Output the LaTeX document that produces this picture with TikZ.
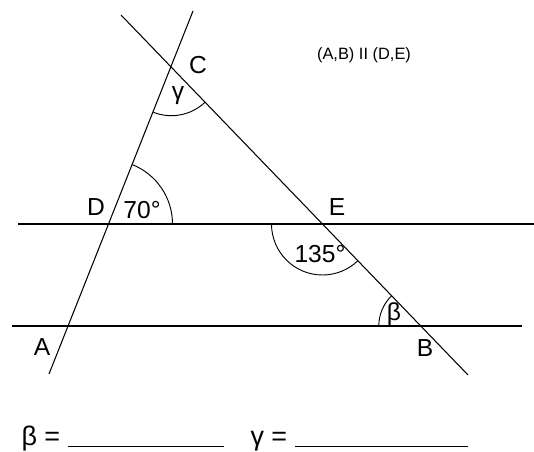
\documentclass[tikz,border=0pt]{standalone}
\usepackage{fontspec}
\setmainfont{Liberation Sans}
\begin{document}
\begin{tikzpicture}[x=0.03cm,y=0.03cm, line width=0.9pt,
    lbl/.style={inner sep=0pt, font=\fontsize{21}{24}\selectfont},
    arcline/.style={line width=0.8pt}]
    \useasboundingbox (0,0) rectangle (534,452);
    % points of the figure
    \coordinate (C) at (171.3,385.3);
    \coordinate (D) at (108.5,228);
    \coordinate (A) at (68,126);
    \coordinate (E) at (322.5,228);
    \coordinate (B) at (420.8,126);
    % ends of the lines
    \coordinate (l1top) at (193,441);
    \coordinate (l1bot) at (49,78);
    \coordinate (l2top) at (121,437);
    \coordinate (l2bot) at (468,77);
    \coordinate (deleft) at (18,228);
    \coordinate (deright) at (534,228);
    \coordinate (ableft) at (12,126);
    \coordinate (abright) at (522,126);
    \draw (l1bot) -- (l1top);
    \draw (l2top) -- (l2bot);
    \draw (deleft) -- (deright);
    \draw (ableft) -- (abright);
    % angle arcs
    \draw[arcline] ([shift={(0:64)}]D) arc (0:68.4:64);
    \draw[arcline] ([shift={(248.4:49)}]C) arc (248.4:314:49);
    \draw[arcline] ([shift={(180:51)}]E) arc (180:314:51);
    \draw[arcline] ([shift={(134:42)}]B) arc (134:180:42);
    % labels
    \node[lbl] (labC) at (198,387) {C};
    \node[lbl] (gam) at (178,356) {γ};
    \node[lbl] (labD) at (96,245) {D};
    \node[lbl] (ang70) at (142,242) {70°};
    \node[lbl] (labE) at (337,245) {E};
    \node[lbl] (ang135) at (320,198) {135°};
    \node[lbl] (bet) at (394,138) {β};
    \node[lbl] (labA) at (42,105) {A};
    \node[lbl] (labB) at (425,104) {B};
    \node[inner sep=0pt, font=\fontsize{14}{16}\selectfont] (par) at (364,397) {(A,B) II (D,E)};
    % answer blanks
    \node[inner sep=0pt, anchor=base west, font=\fontsize{23}{26}\selectfont] (ansb) at (21,6)
    {β = \rule[-1pt]{4.7cm}{0.8pt}};
    \node[inner sep=0pt, anchor=base west, font=\fontsize{23}{26}\selectfont] (ansg) at (250,6)
    {γ = \rule[-1pt]{5.2cm}{0.8pt}};
\end{tikzpicture}
\end{document}
